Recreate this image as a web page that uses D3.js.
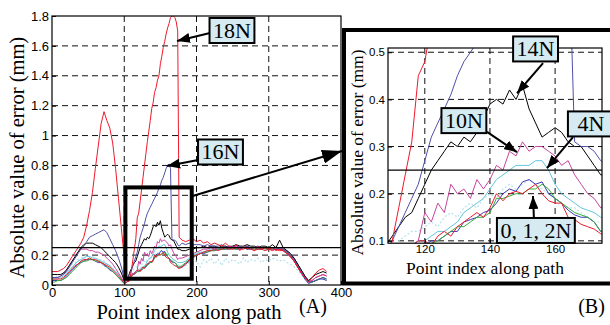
<!DOCTYPE html>
<html>
<head>
<meta charset="utf-8">
<script src="https://cdn.jsdelivr.net/npm/d3@7"></script>
<style>
  body { margin: 0; background: #fff; }
  svg { display: block; }
</style>
</head>
<body>
<svg id="chart"></svg>
<script>
// point index along the path: every 4th point at the start, every 2nd inside the zoom window, every 5th after it
let idxStart = d3.range(0, 105, 4);
let idxZoom = d3.range(106, 177, 2);
let idxEnd = d3.range(180, 381, 5);
let pointIndex = idxStart.concat(idxZoom, idxEnd);

// absolute error (mm) for each contact force
let err0N = [
  0.04,0.04,0.04,0.04,0.05,0.07,0.09,0.11,0.13,0.14,0.16,0.17,0.17,0.18,0.17,0.17,0.16,0.15,0.14,0.13,0.12,0.10,0.08,0.06,0.04,0.01,0.02,
  0.03,0.05,0.06,0.07,0.08,0.09,0.10,0.10,0.09,0.11, 0.12,0.11,0.13,0.14,0.15,0.16,0.15,0.17,0.20,0.185, 0.20,0.205,0.20,0.21,0.22,0.20,0.185,0.18,0.18,0.15, 0.145,0.135,0.13,0.125,0.115,0.11,
  0.12,0.14,0.17,0.19,0.20,0.21,0.22,0.23,0.23,0.24, 0.23,0.24,0.25,0.24,0.24,0.25,0.24,0.24,0.25,0.24, 0.23,0.24,0.24,0.23,0.24,0.23,0.24,0.23,0.23,0.21, 0.19,0.16,0.12,0.08,0.05,0.02,0.03,0.05,0.06,0.07, 0.06
];
let err1N = [
  0.02,0.02,0.03,0.03,0.04,0.05,0.07,0.09,0.11,0.13,0.15,0.16,0.16,0.17,0.17,0.16,0.16,0.15,0.14,0.12,0.11,0.09,0.07,0.05,0.03,0.01,0.02,
  0.03,0.05,0.06,0.07,0.07,0.08,0.09,0.09,0.095,0.10, 0.11,0.12,0.13,0.13,0.14,0.15,0.15,0.16,0.19,0.19, 0.195,0.20,0.20,0.21,0.21,0.22,0.21,0.19,0.18,0.17, 0.16,0.155,0.15,0.14,0.12,0.12,
  0.13,0.15,0.17,0.19,0.20,0.21,0.22,0.22,0.23,0.23, 0.24,0.24,0.24,0.25,0.24,0.24,0.25,0.25,0.24,0.25, 0.24,0.24,0.25,0.24,0.24,0.24,0.25,0.24,0.24,0.22, 0.20,0.17,0.13,0.09,0.05,0.02,0.02,0.03,0.04,0.05, 0.04
];
let err2N = [
  0.03,0.03,0.03,0.03,0.04,0.06,0.08,0.10,0.12,0.14,0.15,0.16,0.17,0.17,0.17,0.16,0.15,0.15,0.13,0.12,0.10,0.09,0.07,0.05,0.03,0.01,0.02,
  0.03,0.05,0.06,0.07,0.08,0.08,0.09,0.09,0.10,0.10, 0.11,0.12,0.12,0.14,0.145,0.15,0.16,0.165,0.18,0.20, 0.21,0.205,0.225,0.23,0.22,0.225,0.20,0.19,0.18,0.165, 0.155,0.15,0.15,0.14,0.12,0.12,
  0.12,0.14,0.16,0.18,0.20,0.21,0.21,0.22,0.23,0.23, 0.24,0.24,0.24,0.24,0.25,0.24,0.24,0.25,0.24,0.24, 0.25,0.24,0.24,0.25,0.24,0.24,0.24,0.24,0.23,0.22, 0.19,0.16,0.12,0.08,0.04,0.01,0.02,0.03,0.04,0.04, 0.03
];
let err4N = [
  0.04,0.04,0.04,0.05,0.06,0.08,0.10,0.12,0.14,0.16,0.17,0.18,0.19,0.19,0.18,0.18,0.17,0.16,0.15,0.14,0.13,0.11,0.09,0.07,0.04,0.02,0.03,
  0.03,0.05,0.06,0.07,0.08,0.09,0.10,0.10,0.11,0.12, 0.12,0.13,0.14,0.16,0.17,0.18,0.19,0.21,0.23,0.24, 0.25,0.26,0.26,0.26,0.27,0.27,0.25,0.22,0.20,0.19, 0.18,0.17,0.165,0.16,0.15,0.15,
  0.15,0.16,0.18,0.20,0.21,0.22,0.22,0.23,0.24,0.24, 0.24,0.25,0.25,0.25,0.25,0.24,0.25,0.25,0.25,0.24, 0.25,0.25,0.24,0.25,0.25,0.24,0.25,0.25,0.24,0.23, 0.21,0.18,0.14,0.10,0.06,0.03,0.02,0.03,0.04,0.05, 0.04
];
let err6N = [
  0.05,0.05,0.06,0.07,0.08,0.10,0.12,0.14,0.15,0.17,0.18,0.19,0.20,0.19,0.19,0.18,0.17,0.17,0.16,0.14,0.13,0.11,0.09,0.07,0.05,0.03,0.04,
  0.04,0.06,0.08,0.10,0.11,0.12,0.12,0.13,0.14,0.13, 0.15,0.16,0.15,0.17,0.18,0.17,0.19,0.20,0.19,0.21, 0.22,0.21,0.22,0.23,0.22,0.21,0.20,0.19,0.18,0.17, 0.17,0.16,0.15,0.14,0.14,0.13,
  0.12,0.13,0.15,0.14,0.16,0.12,0.17,0.15,0.18,0.14, 0.17,0.13,0.18,0.15,0.17,0.16,0.14,0.18,0.15,0.17, 0.16,0.18,0.15,0.17,0.16,0.18,0.17,0.16,0.17,0.15, 0.14,0.12,0.10,0.07,0.04,0.02,0.02,0.03,0.04,0.04, 0.03
];
let err10N = [
  0.05,0.05,0.05,0.06,0.08,0.10,0.13,0.16,0.19,0.22,0.24,0.24,0.24,0.23,0.23,0.22,0.22,0.21,0.20,0.18,0.16,0.14,0.11,0.08,0.05,0.02,0.03,
  0.04,0.06,0.07,0.08,0.07,0.09,0.10,0.16,0.14,0.18, 0.16,0.22,0.20,0.21,0.19,0.23,0.21,0.23,0.26,0.25, 0.29,0.28,0.31,0.29,0.30,0.30,0.29,0.28,0.26,0.27, 0.24,0.22,0.20,0.19,0.17,0.18,
  0.18,0.19,0.20,0.21,0.22,0.23,0.24,0.24,0.25,0.24, 0.25,0.25,0.26,0.25,0.25,0.26,0.25,0.25,0.26,0.25, 0.25,0.26,0.25,0.25,0.25,0.24,0.25,0.25,0.24,0.23, 0.21,0.18,0.14,0.10,0.06,0.02,0.03,0.05,0.06,0.07, 0.06
];
let err14N = [
  0.07,0.07,0.07,0.07,0.08,0.10,0.13,0.16,0.19,0.22,0.25,0.27,0.28,0.28,0.28,0.27,0.26,0.25,0.23,0.21,0.19,0.17,0.15,0.12,0.08,0.03,0.04,
  0.06,0.09,0.11,0.13,0.15,0.16,0.19,0.22,0.25,0.27, 0.29,0.31,0.30,0.32,0.31,0.33,0.36,0.39,0.40,0.39, 0.42,0.40,0.43,0.38,0.35,0.32,0.33,0.34,0.33,0.31, 0.30,0.30,0.28,0.26,0.24,0.24,
  0.23,0.23,0.24,0.24,0.25,0.25,0.26,0.25,0.26,0.26, 0.25,0.26,0.26,0.25,0.26,0.27,0.26,0.26,0.27,0.26, 0.26,0.25,0.26,0.26,0.25,0.27,0.25,0.30,0.25,0.23, 0.21,0.18,0.14,0.10,0.06,0.03,0.05,0.07,0.08,0.09, 0.08
];
let err16N = [
  0.05,0.05,0.05,0.06,0.07,0.09,0.12,0.15,0.18,0.21,0.24,0.26,0.29,0.32,0.33,0.34,0.35,0.36,0.37,0.35,0.31,0.27,0.23,0.18,0.12,0.04,0.05,
  0.06,0.08,0.10,0.13,0.16,0.19,0.22,0.27,0.32,0.35, 0.38,0.41,0.45,0.48,0.50,0.52,0.54,0.56,0.58,0.60, 0.62,0.65,0.67,0.70,0.72,0.75,0.78,0.80,0.81,0.78, 0.31,0.30,0.30,0.29,0.27,0.26,
  0.28,0.27,0.28,0.27,0.27,0.27,0.26,0.27,0.26,0.26, 0.26,0.27,0.25,0.26,0.26,0.25,0.26,0.25,0.26,0.25, 0.25,0.26,0.25,0.25,0.25,0.25,0.25,0.24,0.24,0.22, 0.20,0.17,0.13,0.09,0.05,0.02,0.02,0.03,0.04,0.05, 0.04
];
let err18N = [
  0.09,0.09,0.09,0.10,0.11,0.13,0.16,0.19,0.22,0.25,0.28,0.32,0.40,0.50,0.62,0.78,0.93,1.08,1.16,1.10,1.05,0.95,0.78,0.58,0.38,0.18,0.03,
  0.02,0.05,0.10,0.17,0.24,0.31,0.45,0.48,0.56,0.64, 0.72,0.80,0.88,0.96,1.03,1.10,1.18,1.22,1.29,1.32, 1.37,1.40,1.48,1.53,1.59,1.63,1.68,1.72,1.75,1.79, 1.80,1.80,1.79,1.76,1.70,0.32,
  0.30,0.29,0.30,0.31,0.29,0.30,0.28,0.29,0.27,0.28, 0.27,0.26,0.28,0.26,0.25,0.27,0.23,0.26,0.24,0.25, 0.23,0.26,0.24,0.25,0.24,0.25,0.23,0.24,0.23,0.21, 0.19,0.16,0.12,0.08,0.05,0.02,0.05,0.08,0.10,0.11, 0.09
];

let forces = ["6N", "4N", "2N", "1N", "0N", "10N", "14N", "16N", "18N"];
let seriesValues = [err6N, err4N, err2N, err1N, err0N, err10N, err14N, err16N, err18N];

// ticks
let xTicksA = [0, 100, 200, 300, 400];
let yTicksA = [0, 0.2, 0.4, 0.6, 0.8, 1, 1.2, 1.4, 1.6, 1.8];
let yTickLabelsA = ["0", "0.2", "0.4", "0.6", "0.8", "1", "1.2", "1.4", "1.6", "1.8"];
let xTicksB = [120, 140, 160];
let yTicksB = [0.1, 0.2, 0.3, 0.4, 0.5];
let yTickLabelsB = ["0.1", "0.2", "0.3", "0.4", "0.5"];

let threshold = 0.25;
let zoomWindow = [101.6, 193.4, 0.042, 0.653];   // x0, x1, y0, y1 of the box drawn on panel A

// callouts: label, box centre, arrow start, arrow tip (data units of their panel)
let calloutsA = [
  { label: "18N", x: 249.1, y: 1.703, fromX: 218.7, fromY: 1.686, tipX: 173.0, tipY: 1.633 },
  { label: "16N", x: 233.2, y: 0.890, fromX: 202.1, fromY: 0.836, tipX: 159.2, tipY: 0.796 }
];
let calloutsB = [
  { label: "14N", x: 154.0, y: 0.507, fromX: 156.3, fromY: 0.477, tipX: 148.3, tipY: 0.413 },
  { label: "10N", x: 132.0, y: 0.355, fromX: 139.1, fromY: 0.331, tipX: 148.3, tipY: 0.288 },
  { label: "4N", x: 171.0, y: 0.348, fromX: 165.5, fromY: 0.320, tipX: 157.5, tipY: 0.254, boxW: 46 },
  { label: "0, 1, 2N", x: 154.1, y: 0.122, fromX: 153.5, fromY: 0.148, tipX: 153.2, tipY: 0.195 }
];

// styles
let colors = {
  "0N": "#e8192c", "1N": "#37ad3c", "2N": "#3a3ab4", "4N": "#62c4dc", "6N": "#b6e2eb",
  "10N": "#c8449e", "14N": "#000000", "16N": "#5050a8", "18N": "#ee1a2c"
};
let serif = "'Liberation Serif','Times New Roman',serif";
let sans = "'Liberation Sans',Arial,Helvetica,sans-serif";

let width = 610;
let height = 325;
let svg = d3.select("#chart").attr("width", width).attr("height", height);

let pA = { left: 52, right: 341, top: 16, bottom: 285 };
let frameB = { x: 344, y: 30, w: 272, h: 253.5 };
let pB = { left: 388, right: 602, top: 48, bottom: 243.2 };

let xA = d3.scaleLinear().domain([0, 400]).range([pA.left, pA.right]);
let yA = d3.scaleLinear().domain([0, 1.8]).range([pA.bottom, pA.top]);
let xB = d3.scaleLinear().domain([108.7, 174.4]).range([pB.left, pB.right]);
let yB = d3.scaleLinear().domain([0.095, 0.509]).range([pB.bottom, pB.top]);

let defs = svg.append("defs");
const addClip = (id, p) => {
  defs.append("clipPath").attr("id", id).append("rect")
    .attr("x", p.left).attr("y", p.top)
    .attr("width", p.right - p.left).attr("height", p.bottom - p.top);
};
addClip("clipA", pA);
addClip("clipB", pB);

const addHead = (id, w, h) => {
  defs.append("marker").attr("id", id)
    .attr("viewBox", `0 0 ${w} ${h}`)
    .attr("refX", w).attr("refY", h / 2)
    .attr("markerWidth", w).attr("markerHeight", h)
    .attr("markerUnits", "userSpaceOnUse")
    .attr("orient", "auto")
    .append("path").attr("d", `M0,0L${w},${h / 2}L0,${h}Z`).attr("fill", "#000");
};
addHead("head", 13, 10);
addHead("bigHead", 20, 14);

// grid, axes, lines for one panel
const drawPanel = (p, x, y, xTicks, yTicks, yLabels, fontSize, pad, clipId, gridX, gridY) => {
  let g = svg.append("g");

  g.append("g").selectAll("line").data(gridX).enter().append("line")
    .attr("x1", d => x(d)).attr("x2", d => x(d))
    .attr("y1", p.top).attr("y2", p.bottom)
    .attr("stroke", "#111").attr("stroke-width", 1).attr("stroke-dasharray", "6,4");
  g.append("g").selectAll("line").data(gridY).enter().append("line")
    .attr("x1", p.left).attr("x2", p.right)
    .attr("y1", d => y(d)).attr("y2", d => y(d))
    .attr("stroke", "#111").attr("stroke-width", 1).attr("stroke-dasharray", "6,4");

  let line = d3.line().x(d => x(d[0])).y(d => y(d[1]));
  g.append("g").attr("clip-path", `url(#${clipId})`)
    .selectAll("path").data(forces).enter().append("path")
    .attr("d", (f, i) => line(pointIndex.map((px, k) => [px, seriesValues[i][k]])))
    .attr("fill", "none")
    .attr("stroke", f => colors[f])
    .attr("stroke-width", f => f === "6N" ? 1.2 : 1)
    .attr("stroke-dasharray", f => f === "6N" ? "2,2" : null);

  g.append("line")
    .attr("x1", p.left).attr("x2", p.right)
    .attr("y1", y(threshold)).attr("y2", y(threshold))
    .attr("stroke", "#000").attr("stroke-width", 1.3);

  let xAxis = d3.axisBottom(x).tickValues(xTicks).tickSizeInner(-4).tickSizeOuter(0).tickPadding(pad);
  let yAxis = d3.axisLeft(y).tickValues(yTicks).tickFormat((d, i) => yLabels[i])
    .tickSizeInner(-4).tickSizeOuter(0).tickPadding(3);

  g.append("g").attr("transform", `translate(0, ${p.bottom})`).call(xAxis)
    .call(s => s.select(".domain").remove())
    .selectAll("text").attr("font-family", sans).attr("font-size", fontSize).attr("fill", "#000");
  g.append("g").attr("transform", `translate(${p.left}, 0)`).call(yAxis)
    .call(s => s.select(".domain").remove())
    .selectAll("text").attr("font-family", sans).attr("font-size", fontSize).attr("fill", "#000");

  g.append("rect")
    .attr("x", p.left).attr("y", p.top)
    .attr("width", p.right - p.left).attr("height", p.bottom - p.top)
    .attr("fill", "none").attr("stroke", "#000").attr("stroke-width", 1.2);
  return g;
};

const drawCallout = (c, x, y) => {
  let g = svg.append("g");
  g.append("line")
    .attr("x1", x(c.fromX)).attr("y1", y(c.fromY))
    .attr("x2", x(c.tipX)).attr("y2", y(c.tipY))
    .attr("stroke", "#000").attr("stroke-width", 2)
    .attr("marker-end", "url(#head)");
  let box = g.append("rect");
  let t = g.append("text")
    .attr("x", x(c.x)).attr("y", y(c.y) + 7.5)
    .attr("text-anchor", "middle")
    .attr("font-family", serif).attr("font-size", 22)
    .text(c.label);
  let w = c.boxW || t.node().getComputedTextLength() + 7;
  let h = 25;
  let left = c.boxW ? x(c.x) - 23 : x(c.x) - w / 2;
  box.attr("x", left).attr("y", y(c.y) - h / 2)
    .attr("width", w).attr("height", h)
    .attr("fill", "#d5ebf1").attr("stroke", "#000").attr("stroke-width", 2);
};

// panel A
drawPanel(pA, xA, yA, xTicksA, yTicksA, yTickLabelsA, 13, 3, "clipA",
  xTicksA.slice(1, -1), yTicksA.slice(1, -1));

// zoom window box on A
svg.append("rect")
  .attr("x", xA(zoomWindow[0])).attr("y", yA(zoomWindow[3]))
  .attr("width", xA(zoomWindow[1]) - xA(zoomWindow[0]))
  .attr("height", yA(zoomWindow[2]) - yA(zoomWindow[3]))
  .attr("fill", "none").attr("stroke", "#000").attr("stroke-width", 4);

// panel B frame and inset
svg.append("rect")
  .attr("x", frameB.x).attr("y", frameB.y)
  .attr("width", frameB.w).attr("height", frameB.h)
  .attr("fill", "#fff").attr("stroke", "#000").attr("stroke-width", 4);

drawPanel(pB, xB, yB, xTicksB, yTicksB, yTickLabelsB, 11.5, 2, "clipB", xTicksB, yTicksB);

// arrow from the zoom box to panel B
svg.append("line")
  .attr("x1", xA(zoomWindow[1]) + 1).attr("y1", yA(0.596))
  .attr("x2", frameB.x - 2).attr("y2", frameB.y + 121)
  .attr("stroke", "#000").attr("stroke-width", 2)
  .attr("marker-end", "url(#bigHead)");

calloutsA.forEach(c => drawCallout(c, xA, yA));
calloutsB.forEach(c => drawCallout(c, xB, yB));

// titles
svg.append("text")
  .attr("transform", `translate(23.5, ${(pA.top + pA.bottom) / 2 + 7}) rotate(-90)`)
  .attr("text-anchor", "middle").attr("font-family", serif).attr("font-size", 20.5)
  .text("Absolute value of error (mm)");
svg.append("text")
  .attr("x", 189).attr("y", 318.5)
  .attr("text-anchor", "middle").attr("font-family", serif).attr("font-size", 20.5)
  .text("Point index along path");
svg.append("text")
  .attr("transform", `translate(363, 152.5) rotate(-90)`)
  .attr("text-anchor", "middle").attr("font-family", serif).attr("font-size", 17.5)
  .text("Absolute value of error (mm)");
svg.append("text")
  .attr("x", (pB.left + pB.right) / 2 - 10).attr("y", 274)
  .attr("text-anchor", "middle").attr("font-family", serif).attr("font-size", 17.5)
  .text("Point index along path");
svg.append("text")
  .attr("x", 313).attr("y", 313)
  .attr("text-anchor", "middle").attr("font-family", serif).attr("font-size", 20)
  .text("(A)");
svg.append("text")
  .attr("x", 591.5).attr("y", 313)
  .attr("text-anchor", "middle").attr("font-family", serif).attr("font-size", 20)
  .text("(B)");
</script>
</body>
</html>
